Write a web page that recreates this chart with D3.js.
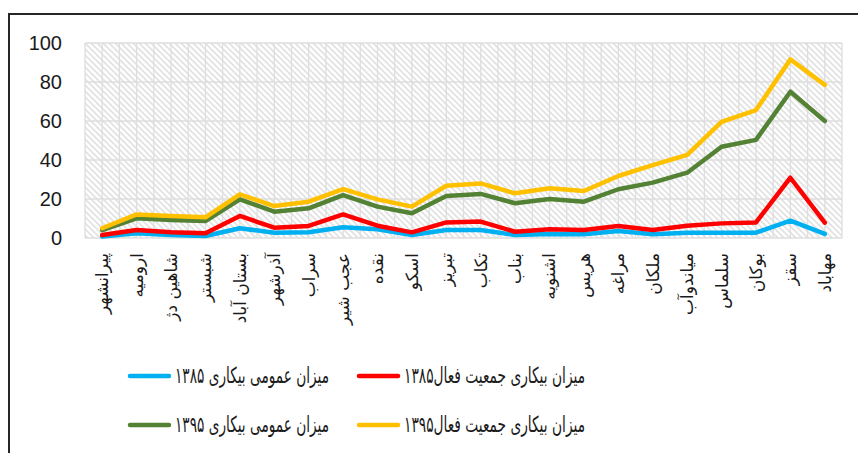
<!DOCTYPE html>
<html>
<head>
<meta charset="utf-8">
<script src="https://cdn.jsdelivr.net/npm/d3@7"></script>
<style>
  body { margin: 0; background: #fff; }
  #chart { width: 858px; height: 453px; }
</style>
</head>
<body>
<div id="chart"></div>
<script>
// cities (x axis)
const cities = ["پیرانشهر", "ارومیه", "شاهین دژ", "شبستر", "بستان آباد", "آذرشهر", "سراب", "عجب شیر",
  "نقده", "اسکو", "تبریز", "تکاب", "بناب", "اشنویه", "هریس", "مراغه", "ملکان", "میاندوآب",
  "سلماس", "بوکان", "سقز", "مهاباد"];

// series values
const general85 = [0.7, 2.4, 1.5, 1.0, 5.0, 2.7, 2.9, 5.5, 4.5, 1.5, 4.1, 4.1, 1.5, 2.1, 1.9, 3.6, 1.9, 2.7, 2.7, 2.7, 8.9, 2.1];
const active85 = [1.5, 4.1, 2.9, 2.4, 11.3, 5.3, 6.2, 12.1, 6.3, 2.9, 8.0, 8.4, 3.2, 4.5, 4.1, 6.2, 4.1, 6.3, 7.5, 8.0, 30.9, 7.9];
const general95 = [4.1, 10.1, 9.2, 8.7, 19.8, 13.5, 15.2, 22.0, 16.1, 12.7, 21.5, 22.6, 17.8, 20.0, 18.6, 25.0, 28.4, 33.5, 46.8, 50.3, 75.0, 60.0];
const active95 = [5.0, 12.1, 11.3, 10.6, 22.4, 16.4, 18.6, 25.1, 19.8, 16.1, 26.8, 28.0, 22.9, 25.5, 24.1, 31.8, 37.4, 42.6, 59.6, 65.6, 91.6, 78.5];

const yTicks = [0, 20, 40, 60, 80, 100];

const seriesNames = ["میزان عمومی بیکاری ۱۳۸۵", "میزان بیکاری جمعیت فعال۱۳۸۵",
  "میزان عمومی بیکاری ۱۳۹۵", "میزان بیکاری جمعیت فعال۱۳۹۵"];

const series = [
  { name: seriesNames[0], values: general85, color: "#00b0f0" },
  { name: seriesNames[1], values: active85, color: "#ff0000" },
  { name: seriesNames[2], values: general95, color: "#548235" },
  { name: seriesNames[3], values: active95, color: "#ffc000" }
];

const width = 858, height = 453;
const margin = ({ top: 43, right: 16, left: 85 });
const plotBottom = 238;
const arabicFont = "'DejaVu Sans', sans-serif";

const svg = d3.select("#chart").append("svg")
  .attr("width", width)
  .attr("height", height);

// hatch fill for the plot area
const defs = svg.append("defs");
const pat = defs.append("pattern")
  .attr("id", "hatch")
  .attr("patternUnits", "userSpaceOnUse")
  .attr("width", 6).attr("height", 6);
pat.append("rect").attr("width", 6).attr("height", 6).attr("fill", "#fff");
pat.append("path")
  .attr("d", "M-1,-1 L7,7 M-1,5 L1,7 M5,-1 L7,1")
  .attr("stroke", "#e2e2e2")
  .attr("stroke-width", 1.7);

// outer frame (runs off the right and bottom)
svg.append("path")
  .attr("d", "M9," + height + " V14 H" + width)
  .attr("fill", "none")
  .attr("stroke", "#262626")
  .attr("stroke-width", 2);

const x = d3.scaleBand()
  .domain(cities)
  .range([margin.left, width - margin.right]);

const y = d3.scaleLinear()
  .domain([0, 100])
  .range([plotBottom, margin.top]);

const plot = svg.append("g");

plot.append("rect")
  .attr("x", x.range()[0])
  .attr("y", y(100))
  .attr("width", x.range()[1] - x.range()[0])
  .attr("height", y(0) - y(100))
  .attr("fill", "url(#hatch)");

// vertical grid lines at band edges and centres
const vLines = [];
cities.forEach(function (c) { vLines.push(x(c)); vLines.push(x(c) + x.bandwidth() / 2); });
vLines.push(x.range()[1]);

plot.append("g")
  .selectAll("line")
  .data(vLines)
  .enter().append("line")
  .attr("x1", function (d) { return d; })
  .attr("x2", function (d) { return d; })
  .attr("y1", y(100))
  .attr("y2", y(0))
  .attr("stroke", "#dedede")
  .attr("stroke-width", 1.3);

plot.append("g")
  .selectAll("line")
  .data(yTicks)
  .enter().append("line")
  .attr("x1", x.range()[0])
  .attr("x2", x.range()[1])
  .attr("y1", y)
  .attr("y2", y)
  .attr("stroke", "#dedede")
  .attr("stroke-width", 1.3);

// y tick labels
svg.append("g")
  .selectAll("text")
  .data(yTicks)
  .enter().append("text")
  .attr("x", 62)
  .attr("y", y)
  .attr("dy", "0.36em")
  .attr("text-anchor", "end")
  .attr("font-family", "'Liberation Sans', Arial, sans-serif")
  .attr("font-size", 20)
  .attr("fill", "#1a1a1a")
  .text(function (d) { return d; });

// category labels, rotated
svg.append("g")
  .selectAll("text")
  .data(cities)
  .enter().append("text")
  .attr("transform", function (d) {
    return "translate(" + (x(d) + x.bandwidth() / 2) + "," + (y(0) + 15) + ")rotate(-90)";
  })
  .attr("dy", "0.35em")
  .attr("text-anchor", "end")
  .attr("font-family", arabicFont)
  .attr("font-size", 17)
  .attr("fill", "#1a1a1a")
  .text(function (d) { return d; });

// lines
const line = d3.line()
  .x(function (d, i) { return x(cities[i]) + x.bandwidth() / 2; })
  .y(function (d) { return y(d); });

plot.append("g")
  .selectAll("path")
  .data(series)
  .enter().append("path")
  .attr("fill", "none")
  .attr("stroke", function (d) { return d.color; })
  .attr("stroke-width", 4.5)
  .attr("stroke-linejoin", "round")
  .attr("stroke-linecap", "round")
  .attr("d", function (d) { return line(d.values); });

// legend: two rows, two columns
const legendPos = [
  { lx: 130, ly: 376, w: 154 },
  { lx: 359, ly: 376, w: 181 },
  { lx: 130, ly: 425, w: 154 },
  { lx: 359, ly: 425, w: 181 }
];

const legend = svg.append("g")
  .selectAll("g")
  .data(series)
  .enter().append("g")
  .attr("transform", function (d, i) { return "translate(" + legendPos[i].lx + "," + legendPos[i].ly + ")"; });

legend.append("line")
  .attr("x1", 0).attr("x2", 39)
  .attr("stroke", function (d) { return d.color; })
  .attr("stroke-width", 4.5)
  .attr("stroke-linecap", "round");

legend.append("text")
  .attr("x", 45)
  .attr("dy", "0.3em")
  .attr("text-anchor", "start")
  .attr("font-family", arabicFont)
  .attr("font-size", 22)
  .attr("textLength", function (d, i) { return legendPos[i].w; })
  .attr("lengthAdjust", "spacingAndGlyphs")
  .attr("fill", "#1a1a1a")
  .text(function (d) { return d.name; });
</script>
</body>
</html>
